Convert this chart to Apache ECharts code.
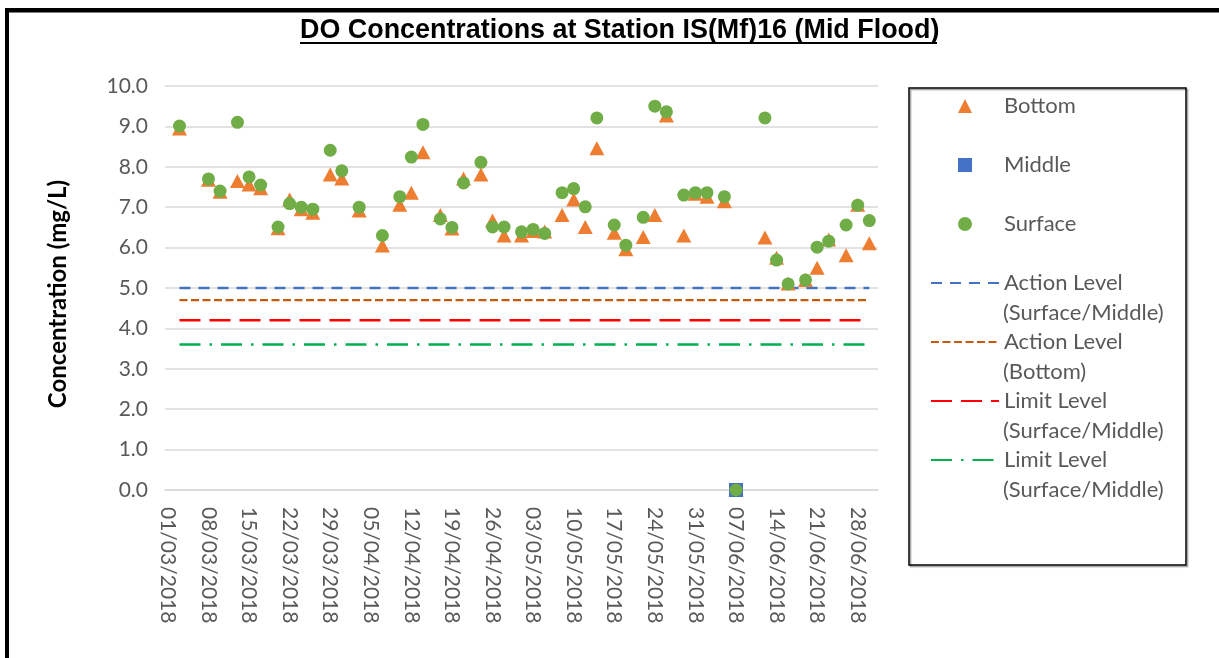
<!DOCTYPE html>
<html>
<head>
<meta charset="utf-8">
<script src="https://cdn.jsdelivr.net/npm/echarts@6/dist/echarts.min.js"></script>
<style>
  html, body { margin: 0; padding: 0; background: #fff; }
  #main { width: 1219px; height: 658px; }
</style>
</head>
<body>
<div id="main"></div>
<script>
// sampling dates and DO readings (mg/L)
const sampleDates = [
  '03/03/2018', '08/03/2018', '10/03/2018', '13/03/2018', '15/03/2018', '17/03/2018',
  '20/03/2018', '22/03/2018', '24/03/2018', '26/03/2018', '29/03/2018', '31/03/2018',
  '03/04/2018', '07/04/2018', '10/04/2018', '12/04/2018', '14/04/2018', '17/04/2018',
  '19/04/2018', '21/04/2018', '24/04/2018', '26/04/2018', '28/04/2018', '01/05/2018',
  '03/05/2018', '05/05/2018', '08/05/2018', '10/05/2018', '12/05/2018', '14/05/2018',
  '17/05/2018', '19/05/2018', '22/05/2018', '24/05/2018', '26/05/2018', '29/05/2018',
  '31/05/2018', '02/06/2018', '05/06/2018', '07/06/2018', '12/06/2018', '14/06/2018',
  '16/06/2018', '19/06/2018', '21/06/2018', '23/06/2018', '26/06/2018', '28/06/2018',
  '30/06/2018'
];
const bottom = [
  8.95, 7.68, 7.38, 7.65, 7.56, 7.47,
  6.48, 7.19, 6.95, 6.86, 7.81, 7.71,
  6.92, 6.05, 7.06, 7.36, 8.36, 6.81,
  6.47, 7.71, 7.81, 6.67, 6.30, 6.30,
  6.41, 6.40, 6.81, 7.19, 6.51, 8.46,
  6.37, 5.96, 6.26, 6.81, 9.27, 6.30,
  7.33, 7.26, 7.15, 0.00, 6.25, 5.75,
  5.11, 5.20, 5.50, 6.20, 5.81, 7.06,
  6.11
];
const surface = [
  9.01, 7.70, 7.40, 9.10, 7.75, 7.55,
  6.51, 7.09, 7.00, 6.95, 8.41, 7.90,
  7.00, 6.30, 7.26, 8.24, 9.05, 6.71,
  6.50, 7.60, 8.11, 6.51, 6.51, 6.39,
  6.45, 6.35, 7.36, 7.46, 7.01, 9.21,
  6.56, 6.06, 6.75, 9.50, 9.36, 7.30,
  7.36, 7.36, 7.26, 0.00, 9.21, 5.69,
  5.10, 5.20, 6.01, 6.16, 6.56, 7.05,
  6.67
];
const middleDates = ['07/06/2018'];
const middle = [0.0];

// criteria lines
const levelNames = [
  'Action Level\n(Surface/Middle)',
  'Action Level\n(Bottom)',
  'Limit Level\n(Surface/Middle)',
  'Limit Level\n(Surface/Middle)\u200b'
];
const levelValues = [5.0, 4.7, 4.2, 3.6];
const levelColors = ['#4472C4', '#C55A11', '#FF0000', '#00B050'];
const levelDash = [[11, 8], [8, 3.5], [21, 9], [21, 9, 2.5, 9]];

// daily date axis, 01/03/2018 - 01/07/2018
const axisDays = [];
for (let d = new Date(2018, 2, 1); d <= new Date(2018, 6, 1); d.setDate(d.getDate() + 1)) {
  axisDays.push(String(d.getDate()).padStart(2, '0') + '/' +
    String(d.getMonth() + 1).padStart(2, '0') + '/' + d.getFullYear());
}

const labelFont = 'Lato';
const legendLeft = 930, legendTop = 95, rowStep = 59;

const chart = echarts.init(document.getElementById('main'));

const levelSeries = levelNames.map((name, i) => ({
  name: name,
  type: 'line',
  symbol: 'none',
  z: 1,
  itemStyle: { color: levelColors[i] },
  lineStyle: { color: levelColors[i], width: 2.4, type: levelDash[i] },
  data: [
    [sampleDates[0], levelValues[i]],
    [sampleDates[sampleDates.length - 1], levelValues[i]]
  ]
}));

// second line of the two-line legend entries
const secondLines = levelNames.map((name, i) => ({
  type: 'text',
  x: legendLeft + 68 + 5,
  y: legendTop + 11 + rowStep * (3 + i) + 29.5,
  style: {
    text: name.split('\n')[1].replace('\u200b', ''),
    font: '22px ' + labelFont,
    fill: '#595959',
    verticalAlign: 'middle',
    textVerticalAlign: 'middle'
  }
}));

// legend markers drawn in the middle of the 68x14 icon box (keeps them unstretched)
const markerIcons = {
  Bottom: 'path://M0,0M68,14M27,14L34,0L41,14Z',
  Middle: 'path://M0,0M68,14M27,0H41V14H27Z',
  Surface: 'circle'
};

chart.setOption({
  backgroundColor: '#fff',
  animation: false,
  title: {
    text: 'DO Concentrations at Station IS(Mf)16 (Mid Flood)',
    left: 300,
    top: 17.5,
    padding: 0,
    textStyle: { fontFamily: 'Liberation Sans', fontWeight: 'bold', fontSize: 26.9, color: '#000' }
  },
  grid: { left: 165, right: 341, top: 86, bottom: 168, containLabel: false, outerBoundsMode: 'none' },
  legend: {
    orient: 'vertical',
    left: legendLeft,
    top: legendTop,
    padding: 0,
    itemWidth: 68,
    itemHeight: 14,
    itemGap: 37,
    selectedMode: false,
    textStyle: { fontFamily: labelFont, fontSize: 22, color: '#595959' },
    formatter: n => n.split('\n')[0],
    data: Object.keys(markerIcons).map(n => ({ name: n, icon: markerIcons[n] })).concat(
      levelNames.map(n => ({ name: n, itemStyle: { opacity: 0 } })))
  },
  xAxis: {
    type: 'category',
    data: axisDays,
    boundaryGap: true,
    axisLine: { lineStyle: { color: '#D9D9D9', width: 1.5 } },
    axisTick: { show: false },
    splitLine: { show: false },
    axisLabel: {
      interval: 6, rotate: -90, margin: 17, padding: [0, 0, 8, 0],
      fontFamily: labelFont, fontSize: 21, color: '#595959'
    }
  },
  yAxis: {
    type: 'value',
    min: 0,
    max: 10,
    interval: 1,
    name: 'Concentration (mg/L)',
    nameLocation: 'middle',
    nameRotate: 90,
    nameGap: 95,
    nameTextStyle: { fontFamily: labelFont, fontWeight: 'bold', fontSize: 24, color: '#000', padding: [0, 12, 0, 0] },
    axisLine: { show: false },
    axisTick: { show: false },
    axisLabel: { formatter: v => v.toFixed(1), margin: 17, fontFamily: labelFont, fontSize: 21, color: '#595959' },
    splitLine: { lineStyle: { color: '#D9D9D9', width: 1.5 } }
  },
  series: [
    {
      name: 'Bottom', type: 'scatter', symbol: 'triangle', symbolSize: [15, 14], z: 3,
      itemStyle: { color: '#ED7D31', opacity: 1 },
      data: sampleDates.map((d, i) => [d, bottom[i]])
    },
    {
      name: 'Middle', type: 'scatter', symbol: 'rect', symbolSize: 14, z: 4,
      itemStyle: { color: '#4472C4', opacity: 1 },
      data: middleDates.map((d, i) => [d, middle[i]])
    },
    {
      name: 'Surface', type: 'scatter', symbol: 'circle', symbolSize: 13, z: 5,
      itemStyle: { color: '#70AD47', opacity: 1 },
      data: sampleDates.map((d, i) => [d, surface[i]])
    }
  ].concat(levelSeries),
  graphic: [
    { type: 'rect', shape: { x: 5, y: 8, width: 4, height: 650 }, style: { fill: '#000' }, silent: true },
    { type: 'rect', shape: { x: 5, y: 8, width: 1214, height: 4.5 }, style: { fill: '#000' }, silent: true },
    { type: 'rect', shape: { x: 300, y: 42, width: 637, height: 2 }, style: { fill: '#000' }, silent: true },
    {
      type: 'rect', shape: { x: 909, y: 88, width: 277, height: 477 }, silent: true,
      style: {
        fill: 'none', stroke: '#000', lineWidth: 1.5,
        shadowColor: 'rgba(0,0,0,0.4)', shadowOffsetX: 1.5, shadowOffsetY: 1.5, shadowBlur: 1
      }
    }
  ].concat(secondLines)
});
</script>
</body>
</html>
